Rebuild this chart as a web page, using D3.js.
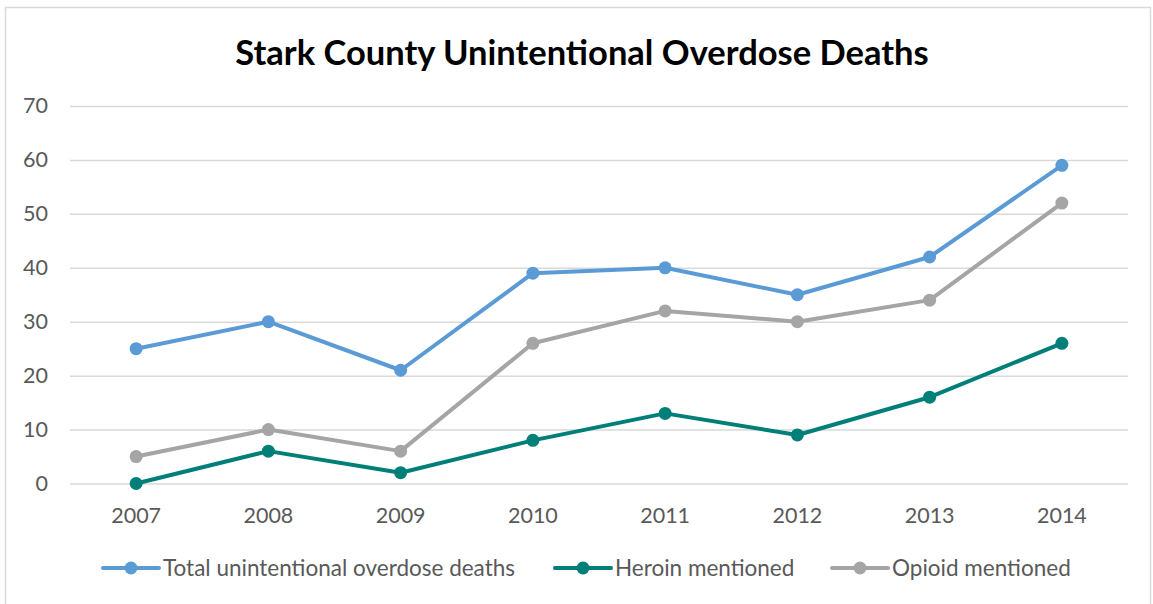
<!DOCTYPE html>
<html><head><meta charset="utf-8">
<script src="https://cdn.jsdelivr.net/npm/d3@7"></script>
<style>body{margin:0;background:#fff;} text{font-family:Lato,"Open Sans",sans-serif;}</style>
</head><body><svg id="c" width="1153" height="604"></svg>
<script>
const years = ["2007","2008","2009","2010","2011","2012","2013","2014"];
const totalDeaths = [25,30,21,39,40,35,42,59];
const heroin = [0,6,2,8,13,9,16,26];
const opioid = [5,10,6,26,32,30,34,52];
const yTicks = [0,10,20,30,40,50,60,70];
const seriesNames = ["Total unintentional overdose deaths","Heroin mentioned","Opioid mentioned"];
const seriesColors = ["#5B9BD5","#007F78","#A5A5A5"];

const svg = d3.select("#c");
svg.append("rect").attr("x",5.5).attr("y",7.5).attr("width",1145).attr("height",610)
  .attr("fill","#fff").attr("stroke","#d9d9d9").attr("stroke-width",1.5);

const x = d3.scaleBand().domain(years).range([70,1128]);
const y = d3.scaleLinear().domain([0,70]).range([483.5,106]);

svg.append("text").attr("x",582).attr("y",65).attr("text-anchor","middle")
  .attr("font-size",34.5).attr("font-weight","bold").attr("fill","#000")
  .text("Stark County Unintentional Overdose Deaths");

const gy = svg.append("g").attr("transform","translate(70,0)")
  .call(d3.axisLeft(y).tickValues(yTicks).tickSize(-1058).tickPadding(22));
gy.select(".domain").remove();
gy.selectAll(".tick line").attr("stroke","#d9d9d9").attr("stroke-width",1.5);
gy.selectAll(".tick text").attr("fill","#595959").attr("font-size",21.5).attr("font-family","Lato,sans-serif");

const gx = svg.append("g").attr("transform","translate(0,483.5)")
  .call(d3.axisBottom(x).tickSize(0).tickPadding(24));
gx.select(".domain").remove();
gx.selectAll(".tick text").attr("fill","#595959").attr("font-size",21.5).attr("font-family","Lato,sans-serif");

const data = [totalDeaths, heroin, opioid];
const line = d3.line().x((d,i)=>x(years[i])+x.bandwidth()/2).y(d=>y(d));
[2,1,0].forEach(k=>{
  svg.append("path").attr("d",line(data[k])).attr("fill","none")
    .attr("stroke",seriesColors[k]).attr("stroke-width",4).attr("stroke-linejoin","round").attr("stroke-linecap","round");
  svg.selectAll(null).data(data[k]).enter().append("circle")
    .attr("cx",(d,i)=>x(years[i])+x.bandwidth()/2).attr("cy",d=>y(d)).attr("r",6.5)
    .attr("fill",seriesColors[k]);
});

const legX = [103,555,832];
const lg = svg.append("g");
seriesNames.forEach((n,k)=>{
  const g = lg.append("g").attr("transform",`translate(${legX[k]},568)`);
  g.append("line").attr("x1",0).attr("x2",56).attr("stroke",seriesColors[k]).attr("stroke-width",4).attr("stroke-linecap","round");
  g.append("circle").attr("cx",28).attr("r",6.5).attr("fill",seriesColors[k]);
  g.append("text").attr("x",60).attr("y",7.5).attr("font-size",22.5).attr("fill","#595959").text(n);
});
</script></body></html>
